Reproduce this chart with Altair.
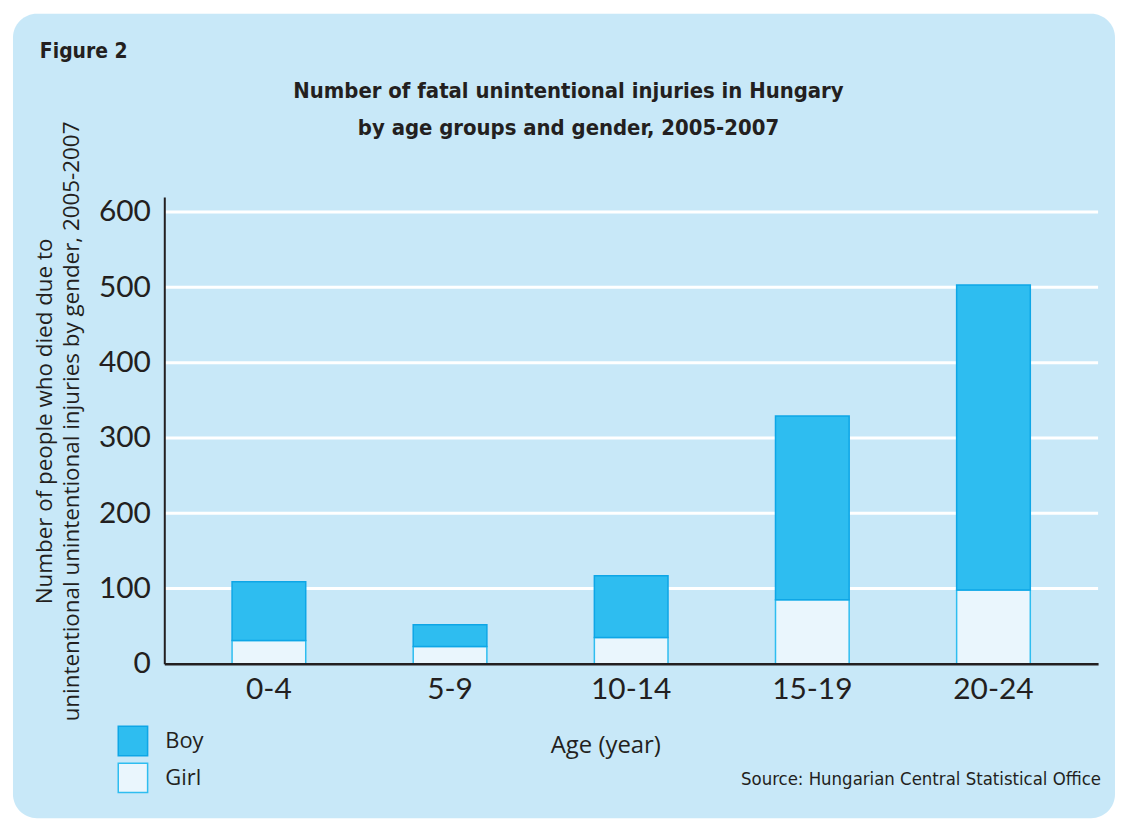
import altair as alt
import pandas as pd

ages = ["0-4", "5-9", "10-14", "15-19", "20-24"]
boys = [78, 29, 82, 244, 405]
girls = [31, 23, 35, 85, 98]
genders = ["Boy", "Girl"]
y_ticks = [0, 100, 200, 300, 400, 500, 600]
grid_values = [100, 200, 300, 400, 500, 600]

title_lines = ["Number of fatal unintentional injuries in Hungary",
               "by age groups and gender, 2005-2007"]
figure_label = "Figure 2"
source_text = "Source: Hungarian Central Statistical Office"
y_title = ["Number of people who died due to",
           "unintentional unintentional injuries by gender, 2005-2007"]
x_title = "Age (year)"

rows = []
for a, b, g in zip(ages, boys, girls):
    rows.append({"age": a, "gender": "Girl", "value": g, "ord": 0})
    rows.append({"age": a, "gender": "Boy", "value": b, "ord": 1})
df = pd.DataFrame(rows)

W, H = 938, 469
BOY_FILL, BOY_STROKE = "#2ebdf0", "#0ea6e6"
GIRL_FILL, GIRL_STROKE = "#eaf6fd", "#2ebdf0"
PANEL = "#c8e8f8"
INK = "#231f20"
NUM_FONT = "Lato"
TXT_FONT = "Open Sans"
COND_FONT = "Liberation Sans Narrow, DejaVu Sans Condensed, sans-serif"

yscale = alt.Scale(domain=[0, 620], nice=False)

panel = alt.Chart(pd.DataFrame({"k": [0]})).mark_rect(
    cornerRadius=24, color=PANEL
).encode(x=alt.value(-152), x2=alt.value(955), y=alt.value(-184), y2=alt.value(624))

grid = alt.Chart(pd.DataFrame({"value": grid_values})).mark_rule(
    color="white", strokeWidth=3
).encode(y=alt.Y("value:Q", scale=yscale))

bars = alt.Chart(df).mark_bar(size=74, strokeWidth=1.5).encode(
    x=alt.X("age:N", sort=ages,
            scale=alt.Scale(paddingInner=0.593, paddingOuter=0.374),
            axis=alt.Axis(labelAngle=0, ticks=False, domainColor=INK, domainWidth=2.5,
                          labelFont=NUM_FONT, labelFontSize=30, labelColor=INK,
                          labelPadding=11, title=x_title, titleFont=TXT_FONT,
                          titleFontSize=24, titleFontWeight="normal", titleColor=INK,
                          titleX=443, titleY=82, titleBaseline="middle", zindex=2)),
    y=alt.Y("value:Q", stack="zero", scale=yscale,
            axis=alt.Axis(values=y_ticks, grid=False, ticks=False, domainColor=INK,
                          domainWidth=2, labelFont=NUM_FONT, labelFontSize=30,
                          labelColor=INK, labelPadding=14, title=y_title,
                          titleFont=TXT_FONT, titleFontSize=22.5, titleFontWeight="normal",
                          titleColor=INK, titleX=-120, titleY=225, titleAngle=270,
                          titleAlign="center", titleBaseline="middle",
                          titleLineHeight=27, zindex=2)),
    fill=alt.Fill("gender:N", scale=alt.Scale(domain=genders, range=[BOY_FILL, GIRL_FILL]),
                  legend=alt.Legend(title=None)),
    stroke=alt.Stroke("gender:N", scale=alt.Scale(domain=genders, range=[BOY_STROKE, GIRL_STROKE]),
                      legend=alt.Legend(title=None)),
    order=alt.Order("ord:Q"),
)

def text_layer(txt, x, y, size, font, weight="normal", align="left"):
    return alt.Chart(pd.DataFrame({"t": [txt]})).mark_text(
        font=font, fontSize=size, fontWeight=weight, align=align,
        baseline="middle", color=INK
    ).encode(text="t:N", x=alt.value(x), y=alt.value(y))

fig = text_layer(figure_label, -125, -146, 21, COND_FONT, "bold")
t1 = text_layer(title_lines[0], 406, -106, 22, COND_FONT, "bold", "center")
t2 = text_layer(title_lines[1], 406, -69, 22, COND_FONT, "bold", "center")
src = text_layer(source_text, 941, 585, 18.5, COND_FONT, "normal", "right")

chart = alt.layer(panel, grid, bars, fig, t1, t2, src).properties(
    width=W, height=H,
    background="white",
    padding={"left": 157, "top": 188, "right": 17, "bottom": 155},
    autosize=alt.AutoSizeParams(type="none"),
).configure_view(stroke=None).configure_legend(
    orient="none", legendX=-47, legendY=531, symbolType="square", symbolSize=870,
    symbolStrokeWidth=1.5, labelFont=TXT_FONT, labelFontSize=22, labelColor=INK,
    labelOffset=17, rowPadding=0, padding=0
)

chart.save("out.html", embed_options={"renderer": "svg", "actions": False})
